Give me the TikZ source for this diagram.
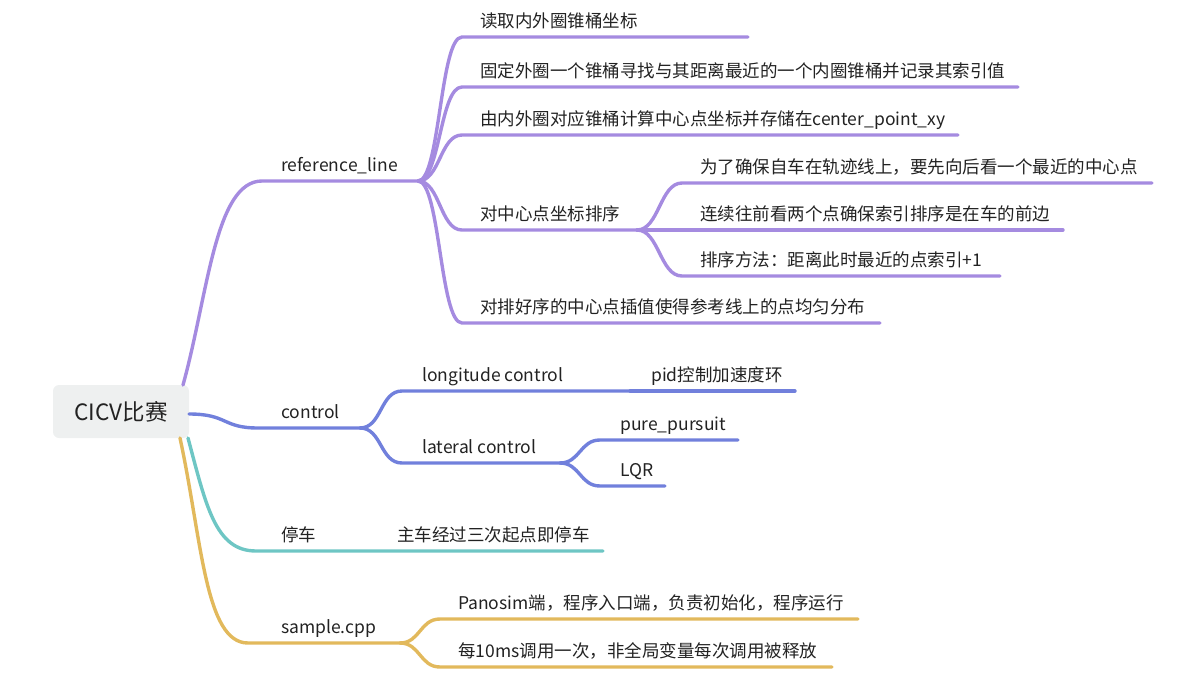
\documentclass[tikz,border=0pt]{standalone}
\usepackage{fontspec}
\setmainfont{Noto Sans CJK SC}
\definecolor{purpc}{RGB}{165,139,224}
\definecolor{bluec}{RGB}{113,128,220}
\definecolor{tealc}{RGB}{110,198,196}
\definecolor{yelc}{RGB}{226,185,92}
\definecolor{rootfill}{RGB}{238,240,240}
\definecolor{txt}{RGB}{34,34,34}
\tikzset{
  br/.style={line width=3.4pt, line cap=round, line join=round},
  purp/.style={br, draw=purpc},
  blu/.style={br, draw=bluec},
  tea/.style={br, draw=tealc},
  yel/.style={br, draw=yelc},
  lbl/.style={anchor=base west, inner sep=0pt, text=txt, font=\fontsize{17.5}{20}\selectfont},
  rootbox/.style={fill=rootfill, rounded corners=6pt, minimum width=136pt, minimum height=53pt, inner sep=0pt, text=txt, font=\fontsize{22.5}{25}\selectfont}
}
\begin{document}
\begin{tikzpicture}[x=1pt,y=-1pt]
\useasboundingbox (0,0) rectangle (1187,691);

% root
\node[rootbox] (root) at (121,411.5) {CICV比赛};
\coordinate (r1) at (183,385);
\coordinate (r2) at (189,414);
\coordinate (r3) at (188,438);
\coordinate (r4) at (180,438);

% ---------- reference_line ----------
\coordinate (refS) at (262,181);
\coordinate (refE) at (418,181);
\draw[purp] (r1) .. controls (208,295) and (215,181) .. (refS) -- (refE);
\node[lbl] (tref) at (281,171) {reference\_line};

\coordinate (c1s) at (462,37);  \coordinate (c1e) at (748,37);
\coordinate (c2s) at (462,87);  \coordinate (c2e) at (1018,87);
\coordinate (c3s) at (462,135); \coordinate (c3e) at (958,135);
\coordinate (c4s) at (462,230); \coordinate (c4e) at (637,230);
\coordinate (c5s) at (462,323); \coordinate (c5e) at (880,323);
\foreach \c in {c1,c2,c3,c4,c5}{
  \draw[purp] (refE) .. controls +(22,0) and +(-22,0) .. (\c s) -- (\c e);
}
\node[lbl] (tc1) at (480,27)  {读取内外圈锥桶坐标};
\node[lbl] (tc2) at (480,77)  {固定外圈一个锥桶寻找与其距离最近的一个内圈锥桶并记录其索引值};
\node[lbl] (tc3) at (480,125) {由内外圈对应锥桶计算中心点坐标并存储在center\_point\_xy};
\node[lbl] (tc4) at (480,220) {对中心点坐标排序};
\node[lbl] (tc5) at (480,313) {对排好序的中心点插值使得参考线上的点均匀分布};

\coordinate (d1s) at (682,183); \coordinate (d1e) at (1152,183);
\coordinate (d2s) at (682,230); \coordinate (d2e) at (1063,230);
\coordinate (d3s) at (682,276); \coordinate (d3e) at (1000,276);
\foreach \d in {d1,d2,d3}{
  \draw[purp] (c4e) .. controls +(22,0) and +(-22,0) .. (\d s) -- (\d e);
}
\node[lbl] (td1) at (700,173) {为了确保自车在轨迹线上，要先向后看一个最近的中心点};
\node[lbl] (td2) at (700,220) {连续往前看两个点确保索引排序是在车的前边};
\node[lbl] (td3) at (700,266) {排序方法：距离此时最近的点索引+1};

% ---------- control ----------
\coordinate (ctS) at (258,428);
\coordinate (ctE) at (360,428);
\draw[blu] (r2) .. controls (228,414) and (222,428) .. (ctS) -- (ctE);
\node[lbl] (tct) at (281,418) {control};

\coordinate (lgS) at (402,391); \coordinate (lgE) at (630,391);
\coordinate (pidE) at (795,391);
\coordinate (laS) at (402,463); \coordinate (laE) at (560,463);
\draw[blu] (ctE) .. controls +(22,0) and +(-22,0) .. (lgS) -- (lgE);
\draw[blu] (lgE) -- (pidE);
\draw[blu] (ctE) .. controls +(22,0) and +(-22,0) .. (laS) -- (laE);
\node[lbl] (tlg) at (422,381) {longitude control};
\node[lbl] (tpid) at (651,381) {pid控制加速度环};
\node[lbl] (tla) at (422,453) {lateral control};

\coordinate (ppS) at (600,440); \coordinate (ppE) at (738,440);
\coordinate (lqS) at (600,486); \coordinate (lqE) at (665,486);
\draw[blu] (laE) .. controls +(20,0) and +(-20,0) .. (ppS) -- (ppE);
\draw[blu] (laE) .. controls +(20,0) and +(-20,0) .. (lqS) -- (lqE);
\node[lbl] (tpp) at (620,430) {pure\_pursuit};
\node[lbl] (tlq) at (620,476) {LQR};

% ---------- 停车 ----------
\coordinate (tcS) at (256,551);
\coordinate (tcE) at (380,551);
\coordinate (zcE) at (603,551);
\draw[tea] (r3) .. controls (206,505) and (215,551) .. (tcS) -- (tcE) -- (zcE);
\node[lbl] (ttc) at (281,541) {停车};
\node[lbl] (tzc) at (397,541) {主车经过三次起点即停车};

% ---------- sample.cpp ----------
\coordinate (spS) at (248,643);
\coordinate (spE) at (400,643);
\draw[yel] (r4) .. controls (202,540) and (205,643) .. (spS) -- (spE);
\node[lbl] (tsp) at (281,633) {sample.cpp};

\coordinate (e1s) at (440,619); \coordinate (e1e) at (858,619);
\coordinate (e2s) at (440,667); \coordinate (e2e) at (832,667);
\draw[yel] (spE) .. controls +(20,0) and +(-20,0) .. (e1s) -- (e1e);
\draw[yel] (spE) .. controls +(20,0) and +(-20,0) .. (e2s) -- (e2e);
\node[lbl] (te1) at (458,609) {Panosim端，程序入口端，负责初始化，程序运行};
\node[lbl] (te2) at (458,657) {每10ms调用一次，非全局变量每次调用被释放};
\end{tikzpicture}
\end{document}
